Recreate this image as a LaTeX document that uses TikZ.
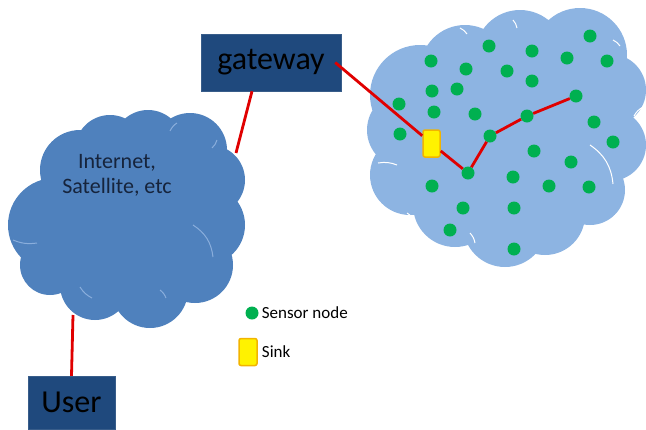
\documentclass[tikz,border=0pt]{standalone}
\usepackage{fontspec}
\setmainfont{Carlito}
\usetikzlibrary{positioning}

\definecolor{boxblue}{HTML}{1F497D}
\definecolor{boxedge}{HTML}{385D8A}
\definecolor{netblue}{HTML}{4F81BD}
\definecolor{netline}{HTML}{8AAEDC}
\definecolor{fieldblue}{HTML}{8DB4E2}
\definecolor{sensorgreen}{HTML}{00B050}
\definecolor{linkred}{HTML}{E00000}
\definecolor{sinkedge}{HTML}{F2B400}
\definecolor{labelink}{HTML}{16243C}

\begin{document}
\begin{tikzpicture}[x=1pt, y=-1pt,
    box/.style={draw=boxedge, fill=boxblue, text=black, inner sep=0pt,
                font=\fontsize{32}{32}\selectfont},
    sensor/.style={circle, fill=sensorgreen, inner sep=0pt, minimum size=13pt},
    sinkbox/.style={draw=sinkedge, fill=yellow, line width=1.5pt, rounded corners=2pt,
                    inner sep=0pt, minimum width=17pt, minimum height=27pt},
    link/.style={draw=linkred, line width=2.8pt},
    notch/.style={line width=1pt},
    legend/.style={inner sep=0pt, font=\fontsize{17}{17}\selectfont}]

    \useasboundingbox (0,0) rectangle (646,429);

    % Internet cloud
    \fill[netblue] (55,225) circle[radius=47pt] (80,170) circle[radius=40pt]
        (110,150) circle[radius=35pt] (148,145) circle[radius=35pt]
        (190,150) circle[radius=37pt] (210,180) circle[radius=35pt]
        (205,225) circle[radius=40pt] (195,265) circle[radius=38pt]
        (150,290) circle[radius=38pt] (95,285) circle[radius=35pt]
        (50,265) circle[radius=30pt] (130,225) circle[radius=85pt];
    \draw[notch, netline] (193,225) to[bend left=25] (213,257);
    \draw[notch, netline] (13,240) to[bend right=15] (37,243);
    \draw[notch, netline] (177,123) to[bend right=15] (170,131);
    \draw[notch, netline] (217,140) to[bend left=15] (212,148);
    \draw[notch, netline] (80,287) to[bend right=15] (92,298);
    \draw[notch, netline] (160,290) to[bend left=15] (166,298);
    \node[inner sep=0pt, align=center, text=labelink,
          font=\fontsize{22}{25}\selectfont] (inet) at (117,175)
        {Internet,\\Satellite, etc};
    \coordinate (inettop) at (236,153);
    \coordinate (inetbottom) at (73,315);

    % sensor field cloud
    \fill[fieldblue] (420,95) circle[radius=50pt] (465,70) circle[radius=45pt]
        (520,55) circle[radius=45pt] (580,55) circle[radius=47pt]
        (610,90) circle[radius=36pt] (610,145) circle[radius=36pt]
        (590,190) circle[radius=35pt] (545,215) circle[radius=40pt]
        (505,225) circle[radius=42pt] (455,205) circle[radius=42pt]
        (410,175) circle[radius=40pt] (405,130) circle[radius=38pt]
        (505,140) circle[radius=95pt];
    \draw[notch, white] (378,163) to[bend left=15] (397,165);
    \draw[notch, white] (590,145) to[bend left=25] (613,184);
    \draw[notch, white] (643,107) to[bend right=15] (634,116);
    \draw[notch, white] (470,233) to[bend left=15] (475,243);
    \draw[notch, white] (407,213) to[bend left=15] (414,221);
    \draw[notch, white] (460,28) to[bend left=15] (467,34);
    \draw[notch, white] (513,20) to[bend left=15] (517,28);
    \draw[notch, white] (613,40) to[bend left=15] (620,46);

    \foreach \x/\y [count=\i] in {489/46, 431/61, 466/69, 507/71, 532/51, 567/58,
        590/36, 607/61, 532/81, 432/91, 457/89, 399/104, 434/112, 475/114,
        400/134, 594/122, 613/142, 534/151, 571/162, 432/186, 513/177,
        549/186, 589/187, 463/208, 514/208, 450/230, 514/249}
        \node[sensor] (s\i) at (\x,\y) {};

    % route from the sink
    \node[sensor] (hop1) at (468,173) {};
    \node[sensor] (hop2) at (490,136) {};
    \node[sensor] (hop3) at (527,116) {};
    \node[sensor] (hop4) at (576,96) {};
    \node[sinkbox] (sink) at (431.5,143.5) {};

    \node[box, minimum width=140pt, minimum height=57pt] (gateway) at (271,62.5) {gateway};
    \node[box, minimum width=87pt, minimum height=53pt] (user) at (71.5,402.5) {User};

    \draw[link] ([xshift=-6pt]gateway.east) -- (sink);
    \draw[link] (sink) -- (hop1) -- (hop2) -- (hop3) -- (hop4);
    \draw[link] ([xshift=-19pt]gateway.south) -- (inettop);
    \draw[link] (user.north) -- (inetbottom);

    % key
    \node[sensor] (keysensor) at (252,313) {};
    \node[legend, right=3pt of keysensor] (keysensortext) {Sensor node};
    \node[sinkbox, minimum width=18pt] (keysink) at (248,352) {};
    \node[legend, right=4pt of keysink] (keysinktext) {Sink};
\end{tikzpicture}
\end{document}
